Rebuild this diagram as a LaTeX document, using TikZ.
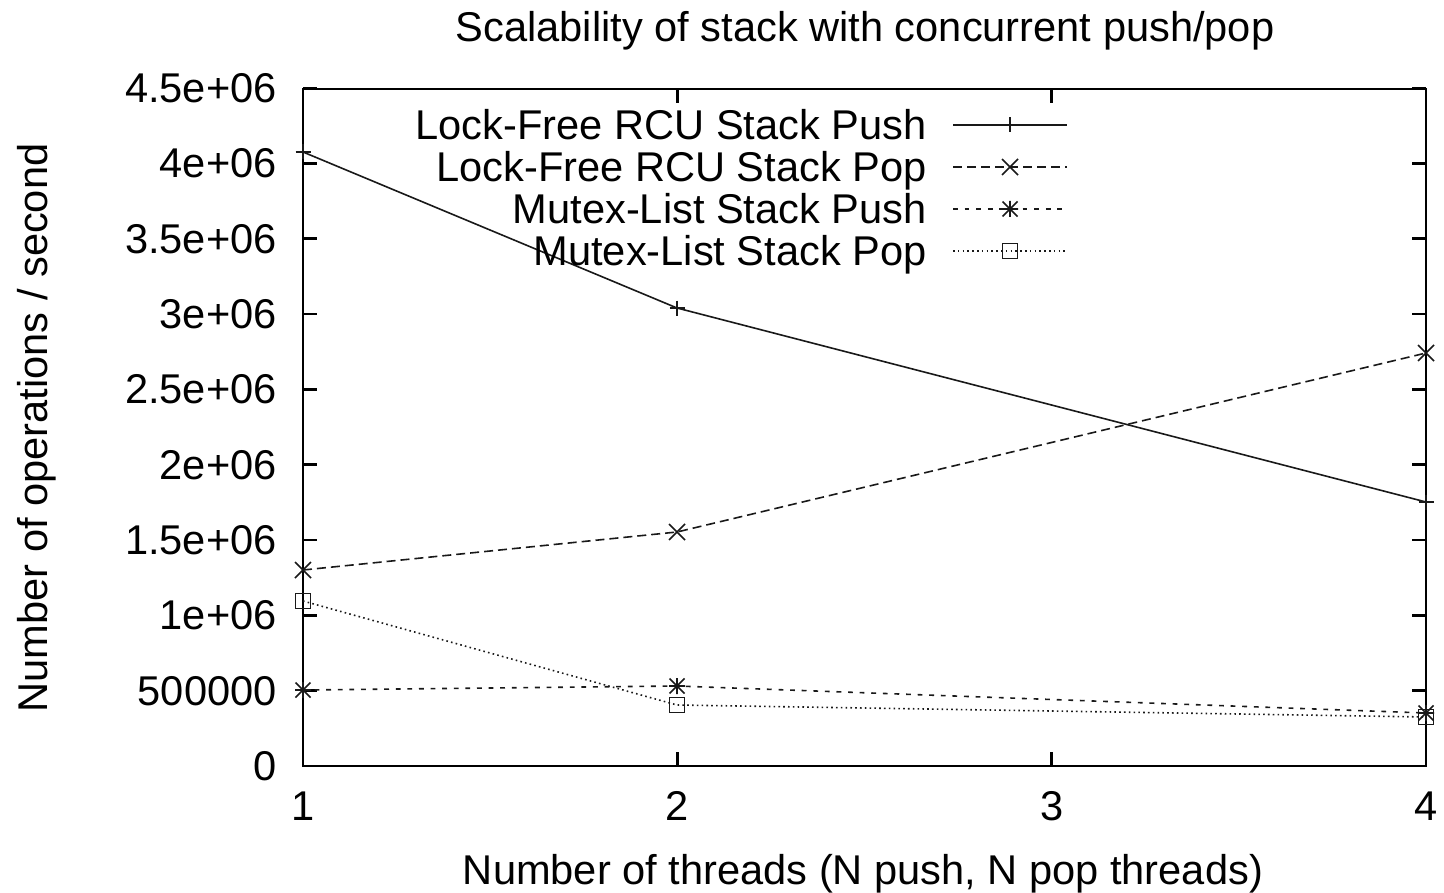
\documentclass[tikz,border=0pt]{standalone}
\usepackage{fontspec}
\setmainfont{Liberation Sans}
\begin{document}
\begin{tikzpicture}[x=0.5pt,y=-0.5pt,
  lbl/.style={inner sep=0pt,font=\fontsize{20.8}{25}\selectfont},
  frame/.style={line width=1.4pt,line join=miter},
  tickline/.style={line width=1.2pt},
  series/.style={line width=0.8pt,black!90},
  seriesA/.style={series},
  seriesB/.style={series,dash pattern=on 4.5pt off 2.5pt},
  seriesC/.style={series,dash pattern=on 2.4pt off 3.4pt},
  seriesD/.style={series,dash pattern=on 0.8pt off 1.6pt},
  mk/.style={line width=0.8pt,black!90,solid},
  plusmark/.pic={\draw[mk] (-7.5,0)--(7.5,0) (0,-7.5)--(0,7.5);},
  crossmark/.pic={\draw[mk] (-8,-8)--(8,8) (-8,8)--(8,-8);},
  starmark/.pic={\draw[mk] (-8,0)--(8,0) (0,-8)--(0,8) (-7.5,-7.5)--(7.5,7.5) (-7.5,7.5)--(7.5,-7.5);},
  boxmark/.pic={\draw[mk] (-7.5,-7.5) rectangle (7.5,7.5);}
]
\useasboundingbox (0,0) rectangle (1444,893);

% plot frame
\coordinate (bl) at (303,766);
\coordinate (tr) at (1426,89);

% y ticks and labels
\foreach \k/\t in {0/0,1/500000,2/1e+06,3/1.5e+06,4/2e+06,5/2.5e+06,6/3e+06,7/3.5e+06,8/4e+06,9/4.5e+06}{
  \pgfmathsetmacro{\yy}{766-75.33*\k}
  \draw[tickline] (303,\yy) -- (317,\yy);
  \draw[tickline] (1426,\yy) -- (1412,\yy);
  \node[lbl,anchor=base east] (yl\k) at (277,\yy+14.5) {\t};
}
% x ticks and labels
\foreach \k in {1,2,3,4}{
  \pgfmathsetmacro{\xx}{303+374.33*(\k-1)}
  \draw[tickline] (\xx,766) -- (\xx,752);
  \draw[tickline] (\xx,89) -- (\xx,103);
  \node[lbl,anchor=base] (xl\k) at (\xx,820) {\k};
}
\draw[frame] (bl) rectangle (tr);

% titles
\node[lbl,anchor=base] (title) at (865,42) {Scalability of stack with concurrent push/pop};
\node[lbl,anchor=base] (xtitle) at (863,884) {Number of threads (N push, N pop threads)};
\node[lbl,anchor=base,rotate=90] (ytitle) at (47,428) {Number of operations / second};

% data points
\coordinate (a1) at (303,152);  \coordinate (a2) at (677,308);  \coordinate (a4) at (1426,502);
\coordinate (b1) at (303,570);  \coordinate (b2) at (677,532);  \coordinate (b4) at (1426,353);
\coordinate (c1) at (303,690);  \coordinate (c2) at (677,686);  \coordinate (c4) at (1426,713);
\coordinate (d1) at (303,601);  \coordinate (d2) at (677,705);  \coordinate (d4) at (1426,717);

\draw[seriesA] (a1) -- (a2) -- (a4);
\draw[seriesB] (b1) -- (b2) -- (b4);
\draw[seriesC] (c1) -- (c2) -- (c4);
\draw[seriesD] (d1) -- (d2) -- (d4);
\foreach \p in {a1,a2,a4} \pic at (\p) {plusmark};
\foreach \p in {b1,b2,b4} \pic at (\p) {crossmark};
\foreach \p in {c1,c2,c4} \pic at (\p) {starmark};
\foreach \p in {d1,d2,d4} \pic at (\p) {boxmark};

% key
\node[lbl,anchor=base east] (ka) at (927,139.5) {Lock-Free RCU Stack Push};
\node[lbl,anchor=base east] (kb) at (927,181.5) {Lock-Free RCU Stack Pop};
\node[lbl,anchor=base east] (kc) at (927,223.5) {Mutex-List Stack Push};
\node[lbl,anchor=base east] (kd) at (927,265.5) {Mutex-List Stack Pop};
\coordinate (ka0) at (953,125); \coordinate (ka1) at (1067,125); \coordinate (kam) at (1010,125);
\coordinate (kb0) at (953,167); \coordinate (kb1) at (1067,167); \coordinate (kbm) at (1010,167);
\coordinate (kc0) at (953,209); \coordinate (kc1) at (1062,209); \coordinate (kcm) at (1010,209);
\coordinate (kd0) at (953,251); \coordinate (kd1) at (1066,251); \coordinate (kdm) at (1010,251);
\draw[seriesA] (ka0) -- (ka1);
\draw[seriesB] (kb0) -- (kb1);
\draw[seriesC] (kc0) -- (kc1);
\draw[seriesD] (kd0) -- (kd1);
\pic at (kam) {plusmark};
\pic at (kbm) {crossmark};
\pic at (kcm) {starmark};
\pic at (kdm) {boxmark};
\end{tikzpicture}
\end{document}
